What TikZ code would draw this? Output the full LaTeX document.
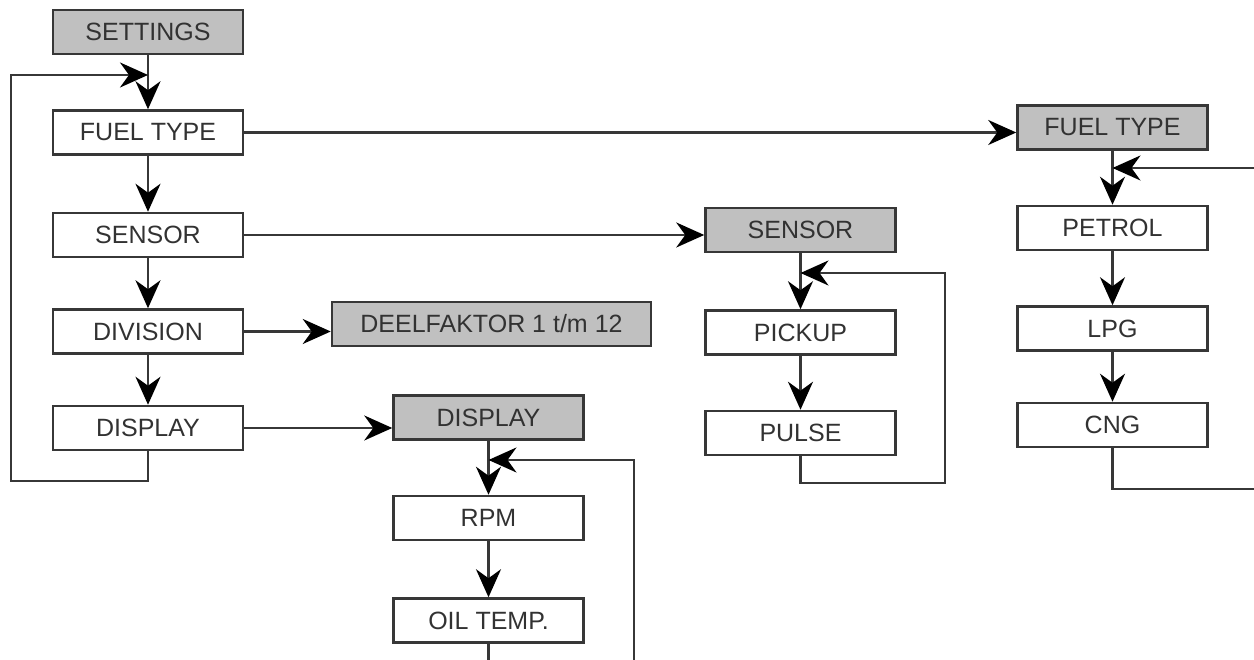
\documentclass[tikz,border=0pt]{standalone}
\usepackage{fontspec}
\setmainfont{Liberation Sans}
\usetikzlibrary{arrows.meta, positioning}
\definecolor{boxline}{RGB}{55,55,55}
\definecolor{boxfill}{RGB}{192,192,192}
\definecolor{boxtext}{RGB}{50,50,50}

\begin{document}
\begin{tikzpicture}[x=1pt, y=1pt, ->, >={Stealth[length=28pt, width=25pt, inset=9pt, color=black]}, line width=2.2pt, color=boxline, node distance=54pt,
  menu/.style={draw=boxline, line width=2.5pt, minimum width=190pt, minimum height=44pt, inner sep=0pt, text=boxtext, font=\fontsize{25}{30}\selectfont},
  title/.style={menu, fill=boxfill}]

\useasboundingbox (0,0) rectangle (1254,660);
\clip (0,0) rectangle (1254,660);

% main menu
\node [title] (settings) at (148,628) {SETTINGS};
\node [menu] (fuel) [below=of settings] {FUEL TYPE};
\node [menu] (sensor) [below=56pt of fuel] {SENSOR};
\node [menu] (division) [below=50pt of sensor] {DIVISION};
\node [menu] (display) [below=50pt of division] {DISPLAY};

% sub menus
\node [title, minimum width=319pt] (factor) at (491.5,336) {DEELFAKTOR 1 t/m 12};
\node [title] (displayT) at (488.5,242.5) {DISPLAY};
\node [menu] (rpm) [below=of displayT] {RPM};
\node [menu] (oil) [below=56pt of rpm] {OIL TEMP.};
\node [title] (sensorT) at (800.5,430) {SENSOR};
\node [menu] (pickup) [below=56pt of sensorT] {PICKUP};
\node [menu] (pulse) [below=of pickup] {PULSE};
\node [title] (fuelT) at (1112.5,532.5) {FUEL TYPE};
\node [menu] (petrol) [below=of fuelT] {PETROL};
\node [menu] (lpg) [below=of petrol] {LPG};
\node [menu] (cng) [below=50pt of lpg] {CNG};

\coordinate (backmain) at (148,585);
\coordinate (backdisplay) at (488.5,200);
\coordinate (backsensor) at (800.5,387);
\coordinate (backfuel) at (1112.5,492);

\path (settings) edge (fuel) ;
\path (fuel) edge (sensor) ;
\path (sensor) edge (division) ;
\path (division) edge (display) ;
\path (fuel) edge (fuel -| fuelT.west) ;
\path (sensor) edge (sensor -| sensorT.west) ;
\path (division) edge (division -| factor.west) ;
\path (display) edge (display -| displayT.west) ;
\path (displayT) edge (rpm) ;
\path (rpm) edge (oil) ;
\path (sensorT) edge (pickup) ;
\path (pickup) edge (pulse) ;
\path (fuelT) edge (petrol) ;
\path (petrol) edge (lpg) ;
\path (lpg) edge (cng) ;

% loops back
\draw (display.south) -- ++(0,-30) -| (11,585) -- (backmain) ;
\draw (oil.south) -- ++(0,-42) -| (634,200) -- (backdisplay) ;
\draw (pulse.south) -- ++(0,-27) -| (945,387) -- (backsensor) ;
\draw (cng.south) -- ++(0,-40.5) -| (1275,492) -- (backfuel) ;

\end{tikzpicture}
\end{document}
